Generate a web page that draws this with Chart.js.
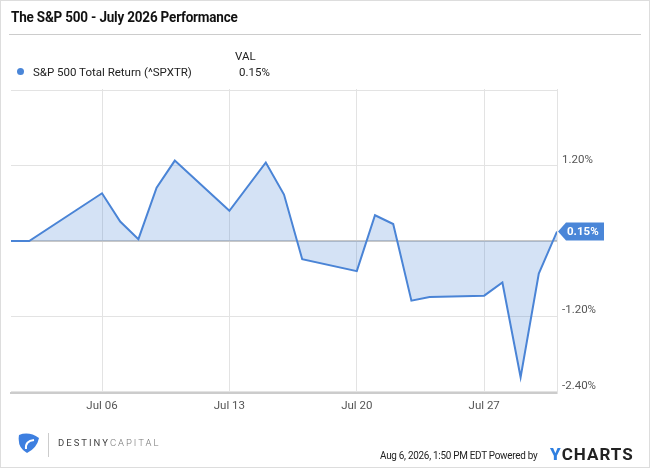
<!DOCTYPE html>
<html>
<head>
<meta charset="utf-8">
<script src="https://cdn.jsdelivr.net/npm/chart.js@4/dist/chart.umd.min.js"></script>
<style>
  body { margin:0; background:#fff; font-family: Roboto, "Noto Sans", sans-serif; }
  #wrap { position:relative; width:648px; height:466px; border:1px solid #ddd; overflow:hidden; }
  #title { position:absolute; left:10px; top:8px; font-size:14.5px; font-weight:bold; color:#111; letter-spacing:-0.2px; transform:scaleX(0.93); transform-origin:left; white-space:nowrap; }
  #rule { position:absolute; left:8px; right:8px; top:33px; border-top:1px solid #ccc; }
  #valhead { position:absolute; left:234px; top:48px; font-size:11.5px; color:#222; }
  #legend { position:absolute; left:16px; top:64px; font-size:11.5px; color:#222; }
  #legend .dot { display:inline-block; width:7px; height:7px; border-radius:50%; background:#4a86d8; margin-right:9px; vertical-align:1px; }
  #legval { position:absolute; left:238px; top:64px; font-size:11.5px; color:#222; }
  #logo { position:absolute; left:16px; top:431px; }
  #dc { position:absolute; left:57px; top:436px; font-size:9.5px; letter-spacing:2px; color:#444; }
  #dc span { color:#777; font-weight:300; }
  #sep { position:absolute; left:47px; top:432px; height:24px; border-left:1px solid #ccc; }
  #stamp { position:absolute; left:379px; top:448px; font-size:11px; color:#222; letter-spacing:-0.3px; transform:scaleX(0.9); transform-origin:left; white-space:nowrap; }
  #ych { position:absolute; left:549px; top:443px; font-size:17px; font-weight:bold; color:#222; letter-spacing:1px; }
  #ych b { color:#2f7fe0; }
  canvas { position:absolute; left:0; top:0; }
</style>
</head>
<body>
<div id="wrap">
  <canvas id="chart" width="648" height="466"></canvas>
  <div id="title">The S&amp;P 500 - July 2026 Performance</div>
  <div id="rule"></div>
  <div id="valhead">VAL</div>
  <div id="legend"><span class="dot"></span>S&amp;P 500 Total Return (^SPXTR)</div>
  <div id="legval">0.15%</div>
  <svg id="logo" width="24" height="22" viewBox="0 0 24 22"><path d="M2 3 Q12 -1 22 6 Q20 16 10 21 Q0 16 2 3Z" fill="#3d7fe0"/><path d="M9 17 Q8 9 17 8" stroke="#fff" stroke-width="2" fill="none"/></svg>
  <div id="sep"></div>
  <div id="dc">DESTINY<span>CAPITAL</span></div>
  <div id="stamp">Aug 6, 2026, 1:50 PM EDT Powered by</div>
  <div id="ych"><b>Y</b>CHARTS</div>
</div>
<script>
// July 2026 trading days and cumulative total return (%)
var days = [1, 2, 6, 7, 8, 9, 10, 13, 15, 16, 17, 20, 21, 22, 23, 24, 27, 28, 29, 30, 31];
var returns = [0.0, 0.0, 0.76, 0.31, 0.03, 0.85, 1.28, 0.48, 1.25, 0.74, -0.29, -0.48, 0.41, 0.27, -0.95, -0.89, -0.87, -0.66, -2.17, -0.52, 0.15];
var tickDays = [6, 13, 20, 27];
var tickLabels = ["Jul 06", "Jul 13", "Jul 20", "Jul 27"];
var shownY = [1.2, -1.2, -2.4];

var points = days.map(function(d, i) { return {x: d, y: returns[i]}; });

// blue value flag at the last point
var lastBadge = {
  id: 'lastBadge',
  afterDraw: function(chart) {
    var ctx = chart.ctx;
    var y = chart.scales.y.getPixelForValue(returns[returns.length - 1]);
    var x = chart.chartArea.right + 1;
    ctx.save();
    ctx.fillStyle = '#4a86d8';
    ctx.beginPath();
    ctx.moveTo(x, y);
    ctx.lineTo(x + 8, y - 9);
    ctx.lineTo(x + 46, y - 9);
    ctx.lineTo(x + 46, y + 9);
    ctx.lineTo(x + 8, y + 9);
    ctx.closePath();
    ctx.fill();
    ctx.fillStyle = '#fff';
    ctx.font = 'bold 11.5px Roboto';
    ctx.textBaseline = 'middle';
    ctx.fillText('0.15%', x + 9, y + 1);
    ctx.restore();
  }
};

new Chart(document.getElementById('chart'), {
  type: 'line',
  data: {
    datasets: [{
      data: points,
      borderColor: '#4a84d6',
      borderWidth: 2,
      backgroundColor: 'rgba(74,132,214,0.24)',
      fill: 'origin',
      pointRadius: 0,
      tension: 0
    }]
  },
  options: {
    responsive: false,
    animation: false,
    layout: { padding: { left: 10, top: 88, right: 0, bottom: 0 } },
    plugins: { legend: { display: false }, tooltip: { enabled: false } },
    scales: {
      x: {
        type: 'linear',
        min: 1, max: 31,
        afterBuildTicks: function(s) { s.ticks = tickDays.map(function(v) { return {value: v}; }); },
        afterFit: function(s) { s.height = 74; },
        ticks: {
          callback: function(v) { return tickLabels[tickDays.indexOf(v)]; },
          color: '#555', font: { size: 11.5, family: 'Roboto' }, padding: 6, maxRotation: 0
        },
        grid: { color: '#e3e3e3', drawTicks: false },
        border: { color: '#ccc', width: 2 }
      },
      y: {
        position: 'right',
        min: -2.42, max: 2.42,
        afterBuildTicks: function(s) { s.ticks = [-2.4, -1.2, 0, 1.2, 2.4].map(function(v) { return {value: v}; }); },
        afterFit: function(s) { s.width = 92; },
        ticks: {
          callback: function(v) { return shownY.indexOf(v) >= 0 ? v.toFixed(2) + '%' : ''; },
          color: '#555', font: { size: 11.5, family: 'Roboto' }, padding: 5, labelOffset: -6
        },
        grid: {
          color: function(c) { return c.tick && c.tick.value === 0 ? '#c8c8c8' : '#e3e3e3'; },
          lineWidth: function(c) { return c.tick && c.tick.value === 0 ? 2 : 1; },
          drawTicks: false
        },
        border: { color: '#e3e3e3' }
      }
    }
  },
  plugins: [lastBadge]
});
</script>
</body>
</html>
